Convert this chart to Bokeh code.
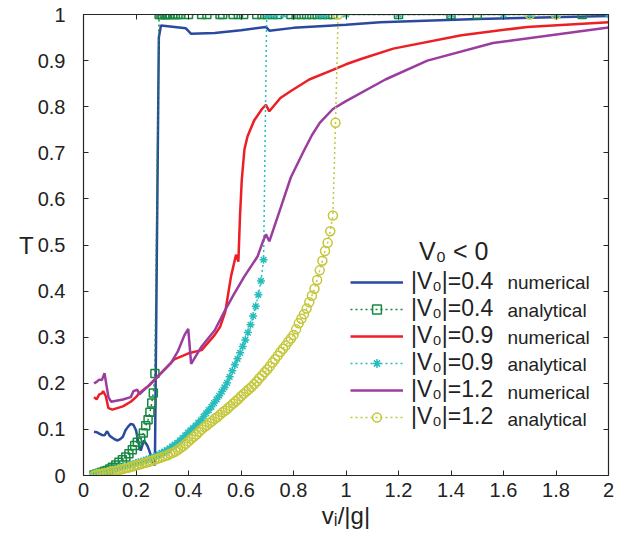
import numpy as np
from bokeh.plotting import figure
from bokeh.models import (LinearAxis, FixedTicker, CustomJSTickFormatter, Range1d,
                          Legend, LegendItem, Label)
from bokeh.embed import file_html
from bokeh.resources import INLINE

FONT = "Liberation Sans"

x_ticks = [0, 0.2, 0.4, 0.6, 0.8, 1.0, 1.2, 1.4, 1.6, 1.8, 2.0]
y_ticks = [0, 0.1, 0.2, 0.3, 0.4, 0.5, 0.6, 0.7, 0.8, 0.9, 1.0]

# |V0| = 0.4 numerical
num04_x = [0.04, 0.05, 0.06, 0.07, 0.08, 0.09, 0.10, 0.11, 0.12, 0.13, 0.14, 0.15, 0.16,
           0.17, 0.18, 0.19, 0.20, 0.21, 0.218, 0.23, 0.243, 0.25, 0.262, 0.272, 0.287,
           0.295, 0.39, 0.41, 0.50, 0.60, 0.695, 0.708, 0.80, 1.0, 1.13, 1.5, 2.0]
num04_y = [0.095, 0.094, 0.091, 0.088, 0.087, 0.096, 0.086, 0.082, 0.078, 0.076, 0.079,
           0.084, 0.098, 0.106, 0.112, 0.110, 0.098, 0.070, 0.054, 0.076, 0.065, 0.055,
           0.033, 0.022, 0.95, 0.976, 0.970, 0.958, 0.960, 0.966, 0.973, 0.965, 0.971,
           0.978, 0.983, 0.990, 0.997]

# |V0| = 0.4 analytical
ana04_x = [0.04, 0.05, 0.06, 0.07, 0.08, 0.09, 0.10, 0.11, 0.123, 0.135, 0.148, 0.161,
           0.173, 0.186, 0.195, 0.205, 0.218, 0.228, 0.237, 0.246, 0.253, 0.260, 0.266,
           0.272]
ana04_y = [0.001, 0.003, 0.005, 0.007, 0.009, 0.011, 0.014, 0.018, 0.023, 0.029, 0.034,
           0.040, 0.047, 0.056, 0.065, 0.072, 0.080, 0.092, 0.108, 0.121, 0.137, 0.157,
           0.179, 0.221]
ana04_top_x = [0.288, 0.295, 0.30, 0.31, 0.315, 0.32, 0.33, 0.34, 0.35, 0.36, 0.37, 0.40,
               0.45, 0.47, 0.52, 0.53, 0.57, 0.59, 0.61, 0.66, 0.68, 0.70, 0.72, 0.74,
               0.79, 0.81, 0.83, 0.85, 0.87, 0.89, 0.91, 0.93, 0.95, 1.2, 1.4, 1.5, 1.9]

# |V0| = 0.9 numerical
num09_x = [0.04, 0.05, 0.06, 0.07, 0.075, 0.085, 0.095, 0.11, 0.15, 0.18, 0.20, 0.213,
           0.25, 0.283, 0.30, 0.346, 0.40, 0.45, 0.50, 0.52, 0.54, 0.55, 0.562, 0.581,
           0.59, 0.596, 0.603, 0.613, 0.625, 0.65, 0.68, 0.695, 0.708, 0.75, 0.79, 0.86,
           0.95, 1.0, 1.06, 1.18, 1.44, 1.69, 2.0]
num09_y = [0.170, 0.165, 0.176, 0.178, 0.183, 0.172, 0.146, 0.143, 0.150, 0.160, 0.170,
           0.179, 0.195, 0.215, 0.225, 0.252, 0.265, 0.272, 0.305, 0.322, 0.355, 0.390,
           0.432, 0.479, 0.464, 0.560, 0.642, 0.707, 0.736, 0.770, 0.795, 0.804, 0.790,
           0.819, 0.834, 0.859, 0.880, 0.892, 0.904, 0.926, 0.955, 0.973, 0.983]

# |V0| = 0.9 analytical
ana09_y = [0.005, 0.006, 0.007, 0.008, 0.009, 0.010, 0.012, 0.013, 0.014, 0.016,
           0.018, 0.020, 0.021, 0.022, 0.024, 0.025, 0.027, 0.029, 0.030, 0.032,
           0.034, 0.036, 0.038, 0.041, 0.043, 0.046, 0.049, 0.052, 0.055, 0.059,
           0.063, 0.067, 0.071, 0.076, 0.081, 0.087, 0.093, 0.098, 0.103, 0.108,
           0.114, 0.120, 0.128, 0.135, 0.142, 0.149, 0.157, 0.165, 0.173, 0.182,
           0.191, 0.201, 0.214, 0.227, 0.240, 0.253, 0.266, 0.280, 0.294, 0.310,
           0.327, 0.346, 0.367, 0.392, 0.422, 0.468]
ana09_x = np.linspace(0.04, 0.686, len(ana09_y))
ana09_top_x = [0.698, 0.71, 0.73, 0.76, 0.90, 0.92, 1.0, 1.2, 1.4, 1.6, 1.7, 1.8, 2.0]

# |V0| = 1.2 numerical
num12_x = [0.04, 0.05, 0.06, 0.07, 0.08, 0.086, 0.095, 0.105, 0.15, 0.18, 0.19, 0.205,
           0.213, 0.244, 0.283, 0.333, 0.36, 0.385, 0.399, 0.41, 0.45, 0.50, 0.536,
           0.57, 0.613, 0.663, 0.685, 0.695, 0.708, 0.752, 0.79, 0.84, 0.87, 0.90, 0.95,
           1.0, 1.15, 1.31, 1.56, 2.0]
num12_y = [0.200, 0.203, 0.208, 0.207, 0.222, 0.201, 0.170, 0.160, 0.165, 0.170, 0.183,
           0.186, 0.176, 0.193, 0.215, 0.244, 0.270, 0.305, 0.318, 0.242, 0.280, 0.315,
           0.355, 0.390, 0.432, 0.475, 0.510, 0.523, 0.508, 0.582, 0.647, 0.705, 0.738,
           0.765, 0.795, 0.812, 0.859, 0.900, 0.938, 0.972]

# |V0| = 1.2 analytical
ana12_y = [0.000, 0.002, 0.003, 0.004, 0.005, 0.006, 0.008, 0.009, 0.010, 0.011,
           0.013, 0.014, 0.016, 0.017, 0.019, 0.020, 0.022, 0.023, 0.025, 0.027,
           0.028, 0.030, 0.032, 0.034, 0.036, 0.038, 0.040, 0.042, 0.044, 0.047,
           0.049, 0.052, 0.056, 0.060, 0.064, 0.069, 0.074, 0.079, 0.084, 0.089,
           0.095, 0.100, 0.105, 0.109, 0.114, 0.118, 0.123, 0.127, 0.132, 0.137,
           0.141, 0.146, 0.151, 0.156, 0.161, 0.166, 0.172, 0.177, 0.182, 0.187,
           0.192, 0.198, 0.204, 0.211, 0.217, 0.224, 0.230, 0.237, 0.245, 0.252,
           0.260, 0.268, 0.275, 0.282, 0.290, 0.297, 0.305, 0.317, 0.330, 0.340,
           0.350, 0.362, 0.376, 0.390, 0.405, 0.424, 0.445, 0.466, 0.487, 0.505,
           0.530, 0.564, 0.765]
ana12_x = np.linspace(0.04, 0.96, len(ana12_y))
ana12_top_x = [0.97, 1.7, 1.8]

C_BLUE = "#2b4a9f"
C_GREEN = "#16883f"
C_RED = "#ec1f26"
C_CYAN = "#27bdbd"
C_PURPLE = "#9b3c9f"
C_YELLOW = "#c4c73a"

p = figure(frame_width=525, frame_height=461,
           min_border_left=83, min_border_right=8, min_border_top=14, min_border_bottom=65,
           x_range=Range1d(0, 2), y_range=Range1d(0, 1),
           output_backend="svg", toolbar_location=None)
p.xgrid.visible = False
p.ygrid.visible = False
p.outline_line_color = None
p.background_fill_color = "white"

fmt = CustomJSTickFormatter(code="return Number(tick.toFixed(1)).toString();")
for ax, ticks in ((p.xaxis[0], x_ticks), (p.yaxis[0], y_ticks)):
    ax.ticker = FixedTicker(ticks=ticks)
    ax.formatter = fmt
    ax.major_tick_in = 5
    ax.major_tick_out = 0
    ax.minor_tick_line_color = None
    ax.axis_line_color = "#262626"
    ax.axis_line_width = 1.2
    ax.major_tick_line_color = "#262626"
    ax.major_label_text_font = FONT
    ax.major_label_text_font_size = "20px"
    ax.major_label_text_color = "#222222"
    ax.axis_label_text_font = FONT
    ax.axis_label_text_font_size = "24px"
    ax.axis_label_text_font_style = "normal"
    ax.axis_label_text_color = "#222222"

p.xaxis.axis_label = "vᵢ/|g|"
p.xaxis.major_label_standoff = 7
p.xaxis.axis_label_standoff = 2
p.yaxis.axis_label = "T"
p.yaxis.axis_label_orientation = "horizontal"
p.yaxis.major_label_standoff = 18
p.yaxis.axis_label_standoff = 1

for loc, ticks in (("above", x_ticks), ("right", y_ticks)):
    box_ax = LinearAxis(ticker=FixedTicker(ticks=ticks), major_label_text_font_size="1px",
                        major_label_text_color=None, major_label_standoff=0,
                        major_tick_in=5, major_tick_out=0, minor_tick_line_color=None,
                        axis_line_color="#262626", axis_line_width=1.2,
                        major_tick_line_color="#262626")
    p.add_layout(box_ax, loc)

items = []

r = p.line(num04_x, num04_y, line_color=C_BLUE, line_width=2.5)
items.append(LegendItem(label="|V₀|=0.4", renderers=[r]))

ax4 = list(ana04_x) + ana04_top_x
ay4 = list(ana04_y) + [1.0] * len(ana04_top_x)
l = p.line(ax4, ay4, line_color=C_GREEN, line_width=1.5, line_dash="2 3")
s = p.scatter(ax4, ay4, marker="square", size=8, line_color=C_GREEN, line_width=1.5,
              fill_color=None)
items.append(LegendItem(label="|V₀|=0.4", renderers=[l, s]))

r = p.line(num09_x, num09_y, line_color=C_RED, line_width=2.5)
items.append(LegendItem(label="|V₀|=0.9", renderers=[r]))

ax9 = list(ana09_x) + ana09_top_x
ay9 = list(ana09_y) + [1.0] * len(ana09_top_x)
l = p.line(ax9, ay9, line_color=C_CYAN, line_width=1.5, line_dash="2 3")
s = p.scatter(ax9, ay9, marker="asterisk", size=8, line_color=C_CYAN, line_width=1.5)
items.append(LegendItem(label="|V₀|=0.9", renderers=[l, s]))

r = p.line(num12_x, num12_y, line_color=C_PURPLE, line_width=2.5)
items.append(LegendItem(label="|V₀|=1.2", renderers=[r]))

ax12 = list(ana12_x) + ana12_top_x
ay12 = list(ana12_y) + [1.0] * len(ana12_top_x)
l = p.line(ax12, ay12, line_color=C_YELLOW, line_width=1.5, line_dash="2 3")
s = p.scatter(ax12, ay12, marker="circle", size=9, line_color=C_YELLOW, line_width=1.5,
              fill_color=None)
items.append(LegendItem(label="|V₀|=1.2", renderers=[l, s]))

legend = Legend(items=items, location=(267, 45), padding=0, margin=0, spacing=0,
                glyph_width=53, glyph_height=22, label_height=22, label_standoff=8,
                label_text_font=FONT, label_text_font_size="23px",
                label_text_color="#222222", background_fill_alpha=0,
                border_line_alpha=0)
p.add_layout(legend, "center")

kinds = ["numerical", "analytical", "numerical", "analytical", "numerical", "analytical"]
kind_y = [0.419, 0.359, 0.300, 0.241, 0.181, 0.122]
for k, yy in zip(kinds, kind_y):
    p.add_layout(Label(x=1.615, y=yy, text=k, text_font=FONT, text_font_size="19px",
                       text_color="#222222", text_baseline="alphabetic"))

p.add_layout(Label(x=1.278, y=0.488, text="V₀ < 0", text_font=FONT,
                   text_font_size="25px", text_color="#222222",
                   text_baseline="alphabetic"))

open("out.html", "w").write(file_html(p, INLINE))
